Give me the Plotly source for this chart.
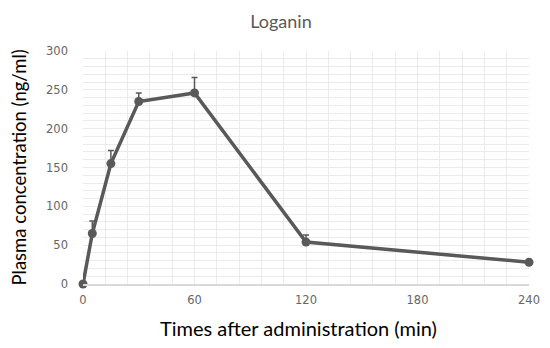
import plotly.graph_objects as go

times = [0, 5, 15, 30, 60, 120, 240]
conc = [0, 65, 155, 235, 246, 54, 28]
err_plus = [0, 16, 17, 11, 20, 9, 0]

x_ticks = [0, 60, 120, 180, 240]
y_ticks = [0, 50, 100, 150, 200, 250, 300]

# page body has an 8px default margin, so the figure is drawn at (8, 8)
W, H = 542, 340
L, R, T, B = 75, 21, 43, 64

fig = go.Figure()
fig.add_trace(go.Scatter(
    x=times, y=conc,
    mode="lines+markers",
    line=dict(color="#595959", width=3.5),
    marker=dict(color="#595959", size=9),
    error_y=dict(type="data", symmetric=False, array=err_plus, arrayminus=[0]*len(times),
                 color="#595959", thickness=1.5, width=3),
    cliponaxis=False,
    showlegend=False,
))

font_family = "Lato, 'DejaVu Sans', sans-serif"
tick_font = dict(family="'DejaVu Sans', sans-serif", size=11.5, color="#666666")
fig.update_layout(
    width=W, height=H,
    margin=dict(l=L, r=R, t=T, b=B),
    paper_bgcolor="white", plot_bgcolor="white",
    title=dict(text="Loganin", xref="container", x=273/W, xanchor="center",
               yref="container", y=1-14/H, yanchor="middle",
               font=dict(family=font_family, size=18, color="#595959")),
    font=dict(family=font_family),
    annotations=[
        dict(text="Times after administration (min)", xref="paper", yref="paper",
             x=(290-L)/(W-L-R), y=-(320-(H-B))/(H-T-B), xanchor="center", yanchor="middle",
             showarrow=False, font=dict(size=20, color="#000000")),
        dict(text="Plasma concentration (ng/ml)", xref="paper", yref="paper",
             x=-(L-10)/(W-L-R), y=0.5, xanchor="center", yanchor="middle", textangle=-90,
             showarrow=False, font=dict(size=18.5, color="#000000")),
    ],
)
fig.update_xaxes(
    range=[0, 240], tickvals=x_ticks, ticktext=[str(v) for v in x_ticks],
    showgrid=True, gridcolor="#ebebeb", gridwidth=1,
    minor=dict(dtick=12, showgrid=True, gridcolor="#ebebeb", gridwidth=1),
    zeroline=False, showline=True, linecolor="#d9d9d9", linewidth=1.5,
    ticks="", ticklabelstandoff=4, tickfont=tick_font, automargin=False,
)
fig.update_yaxes(
    range=[0, 300], tickvals=y_ticks, ticktext=[str(v) for v in y_ticks],
    showgrid=True, gridcolor="#ebebeb", gridwidth=1,
    minor=dict(dtick=10, showgrid=True, gridcolor="#ebebeb", gridwidth=1),
    zeroline=False, showline=False,
    ticks="", ticklabelstandoff=14, tickfont=tick_font, automargin=False,
)

fig.write_html("out.html")
